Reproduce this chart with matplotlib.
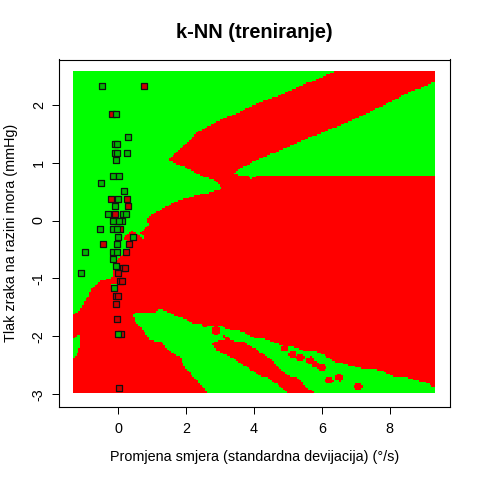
import numpy as np
from matplotlib import pyplot as plt
from matplotlib.colors import ListedColormap
from matplotlib.path import Path

plt.rcParams['font.family'] = ['Liberation Sans', 'DejaVu Sans']
plt.rcParams['axes.unicode_minus'] = False

# decision regions (x, y), everything else is red
green_main = [(6.45, 2.65), (6.39, 2.57), (5.55, 2.36), (4.77, 2.16), (4.08, 2.02), (3.59, 1.87), (3.00, 1.73),
              (2.36, 1.53), (1.47, 1.05), (1.52, 1.02), (1.96, 0.92), (2.50, 0.75), (2.80, 0.71),
              (3.08, 0.55), (2.65, 0.48), (2.31, 0.44), (2.01, 0.38), (1.67, 0.32), (1.23, 0.18),
              (0.81, 0.03), (0.91, -0.08), (0.64, -0.20), (0.81, -0.34), (0.49, -0.20), (0.39, -0.18),
              (0.14, -0.31), (0.19, -0.33), (0.41, -0.42), (0.28, -0.51), (0.05, -0.62), (-0.05, -0.70),
              (-0.16, -0.86), (-0.20, -1.00), (-0.49, -1.03), (-0.79, -1.19), (-0.90, -1.32),
              (-1.01, -1.40), (-1.13, -1.55), (-1.33, -1.63), (-1.45, -1.65), (-1.45, 2.65)]
green_patch = [(-0.25, -1.08), (-0.02, -1.08), (-0.02, -1.24), (-0.20, -1.24)]
green_right = [(3.41, 0.82), (3.54, 0.88), (4.08, 1.04), (4.77, 1.21), (5.55, 1.41), (6.54, 1.64),
               (7.52, 1.90), (8.50, 2.19), (9.34, 2.39), (9.45, 2.43), (9.45, 0.78), (4.08, 0.78),
               (3.93, 0.71), (3.80, 0.78), (3.51, 0.78)]
green_lower = [(0.37, -1.65), (0.49, -1.58), (1.08, -1.58), (1.18, -1.53), (1.37, -1.55), (1.72, -1.65),
               (1.96, -1.69), (2.11, -1.76), (2.41, -1.79), (2.55, -1.83), (2.75, -1.81), (3.09, -1.81),
               (3.14, -1.86), (3.68, -1.92), (3.98, -2.02), (4.27, -2.03), (4.67, -2.12), (5.16, -2.18),
               (5.50, -2.25), (5.90, -2.27), (6.39, -2.43), (6.73, -2.48), (7.18, -2.55), (7.77, -2.58),
               (8.11, -2.69), (8.51, -2.71), (9.14, -2.81), (9.34, -2.88), (9.45, -2.92), (9.45, -3.05),
               (5.85, -3.05), (5.85, -2.98), (5.60, -2.91), (5.31, -2.72), (4.96, -2.67), (4.47, -2.38),
               (4.03, -2.21), (3.68, -2.09), (3.43, -2.08), (3.14, -1.98), (3.05, -1.94), (3.14, -2.06),
               (2.88, -2.08), (2.77, -2.13), (2.90, -2.24), (3.39, -2.38), (3.78, -2.52), (4.18, -2.68),
               (4.42, -2.71), (4.77, -2.87), (5.01, -2.98), (5.01, -3.05), (2.65, -3.05), (2.65, -2.98),
               (2.11, -2.63), (1.91, -2.49), (1.87, -2.38), (1.57, -2.27), (1.23, -2.09), (0.93, -2.06),
               (0.69, -1.86), (0.49, -1.75), (0.49, -1.67)]
green_left = [(-1.45, -2.04), (-1.33, -2.04), (-1.23, -1.98), (-1.13, -1.98), (-1.13, -2.18),
              (-1.23, -2.32), (-1.33, -2.36), (-1.45, -2.36)]

# little red spots inside the lower green band
spot_x = [2.87, 4.91, 5.13, 5.36, 5.67, 5.80, 6.00, 6.21, 6.52, 7.07]
spot_y = [-1.90, -2.20, -2.31, -2.37, -2.41, -2.48, -2.53, -2.76, -2.71, -2.87]
spot_rx = [0.115, 0.115, 0.115, 0.115, 0.115, 0.115, 0.115, 0.115, 0.115, 0.115]
spot_ry = [0.08, 0.06, 0.06, 0.06, 0.06, 0.06, 0.06, 0.06, 0.06, 0.06]

# training points
red_x = [0.76, -0.18, -0.21, 0.25, 0.28, -0.10, -0.05, 0.05, -0.45, 0.31, 0.22, 0.14, 0.19,
         -0.01, 0.05, 0.10, -0.06, 0.00, -0.07, -0.04, 0.07, 0.02]
red_y = [2.32, 1.83, 0.37, 0.37, 0.25, 0.11, -0.01, -0.15, -0.41, -0.41, -0.55, -0.82, -0.82,
         -0.91, -1.05, -1.05, -1.31, -1.31, -1.44, -1.70, -1.96, -2.89]
green_x = [-0.48, -0.06, 0.28, -0.10, -0.03, -0.09, -0.03, 0.25, -0.06, -0.16, 0.02, -0.51, 0.17,
           -0.01, -0.09, -0.31, 0.14, 0.22, -0.15, 0.12, 0.02, -0.54, -0.17, -0.05, -0.01, 0.43,
           -0.04, -0.98, -0.15, -0.04, -0.16, -0.07, -1.10, -0.13, -0.01]
green_y = [2.32, 1.83, 1.44, 1.32, 1.32, 1.17, 1.17, 1.17, 1.05, 0.76, 0.76, 0.64, 0.51,
           0.37, 0.25, 0.11, 0.11, 0.11, -0.01, -0.01, -0.01, -0.15, -0.15, -0.15, -0.29, -0.29,
           -0.41, -0.55, -0.55, -0.55, -0.67, -0.79, -0.91, -1.17, -1.96]

x_ticks = [0, 2, 4, 6, 8]
y_ticks = [-3, -2, -1, 0, 1, 2]

# fine grid so the region edges stay stepped but small
x_edges = np.linspace(-1.339, 9.339, 201)
y_edges = np.linspace(-2.976, 2.574, 201)
xc = (x_edges[:-1] + x_edges[1:]) / 2
yc = (y_edges[:-1] + y_edges[1:]) / 2
xx, yy = np.meshgrid(xc, yc)
pts = np.column_stack([xx.ravel(), yy.ravel()])

cls = np.zeros(len(pts), dtype=int)
for poly in [green_main, green_patch, green_right, green_lower, green_left]:
    cls[Path(poly).contains_points(pts)] = 1
for sx, sy, rx, ry in zip(spot_x, spot_y, spot_rx, spot_ry):
    inside = ((pts[:, 0] - sx) / rx) ** 2 + ((pts[:, 1] - sy) / ry) ** 2 <= 1
    cls[inside] = 0
cls = cls.reshape(xx.shape)

fig = plt.figure(figsize=(4.8, 4.8), dpi=100)
ax = fig.add_axes([59 / 480, 1 - 406.5 / 480, 390.5 / 480, 347 / 480])
ax.pcolormesh(x_edges, y_edges, cls, cmap=ListedColormap(['#FF0000', '#00FF00']),
              vmin=0, vmax=1, antialiased=False, linewidth=0)
ax.scatter(red_x, red_y, marker='s', s=16, c='#CC0000', edgecolors='#111111', linewidths=0.9, zorder=3)
ax.scatter(green_x, green_y, marker='s', s=16, c='#00B800', edgecolors='#111111', linewidths=0.9, zorder=4)

ax.set_xlim(-1.752, 9.767)
ax.set_ylim(-3.207, 2.776)
ax.set_xticks(x_ticks)
ax.set_xticklabels([str(v) for v in x_ticks])
ax.set_yticks(y_ticks)
ax.set_yticklabels([str(v) for v in y_ticks], rotation=90, va='center')
ax.tick_params(length=5, width=0.72, labelsize=10.37)
ax.tick_params(axis='x', pad=6.5)
ax.tick_params(axis='y', pad=4.5)
for s in ax.spines.values():
    s.set_linewidth(0.8)

ax.set_title('k-NN (treniranje)', fontsize=14.4, fontweight='bold', pad=15.5)
ax.set_xlabel('Promjena smjera (standardna devijacija) (°/s)', fontsize=10.37, labelpad=9.5)
ax.set_ylabel('Tlak zraka na razini mora (mmHg)', fontsize=10.37, labelpad=10)

fig.savefig('out.png', dpi=100)
